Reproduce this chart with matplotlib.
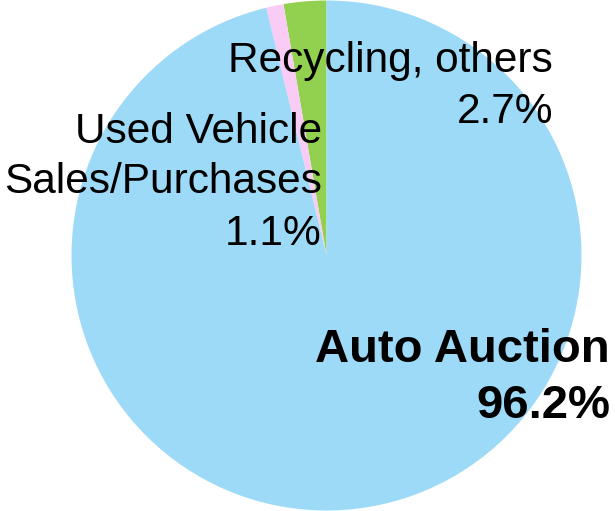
import matplotlib.pyplot as plt

plt.rcParams['font.family'] = ['Liberation Sans', 'DejaVu Sans']

# share of sales, counter-clockwise from 12 o'clock
labels = ["Recycling, others", "Used Vehicle Sales/Purchases", "Auto Auction"]
shares = [2.7, 1.1, 96.2]
colors = ["#92D050", "#F9CCF6", "#9DDAF8"]

W, H = 615, 511
fig = plt.figure(figsize=(W / 100, H / 100), dpi=100)

# pie axes: centre ~(326.5, 255) px, radius ~255 px
cx, cy, r = 326.5, 255.5, 255
ax = fig.add_axes([(cx - r) / W, (H - cy - r) / H, 2 * r / W, 2 * r / H])
ax.pie(shares, colors=colors, startangle=90, counterclock=True,
       wedgeprops=dict(linewidth=0))
ax.set_xlim(-1, 1)
ax.set_ylim(-1, 1)
ax.set_aspect('auto')
ax.axis('off')


def put(x, y, s, **kw):
    fig.text(x / W, 1 - y / H, s, ha='right', va='baseline', color='black', **kw)


# label lines: (right edge px, baseline px)
put(553, 72, labels[0], fontsize=30.5)
put(553, 123, f"{shares[0]}%", fontsize=30.5)

put(322, 143, "Used Vehicle", fontsize=30.5)
put(322, 193, "Sales/Purchases", fontsize=30.5)
put(322, 245, f"{shares[1]}%", fontsize=30.5)

put(610, 362, labels[2], fontsize=34, fontweight='bold')
put(610, 418, f"{shares[2]}%", fontsize=34, fontweight='bold')

fig.savefig("out.png", dpi=100)
